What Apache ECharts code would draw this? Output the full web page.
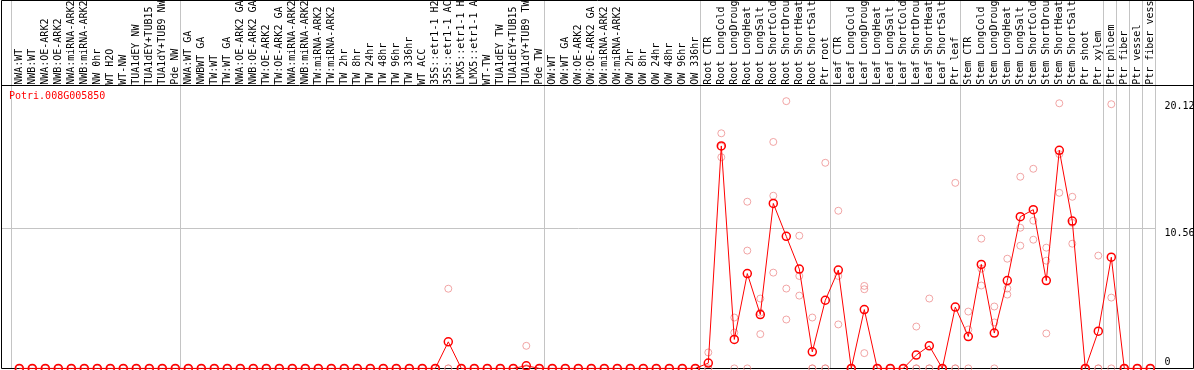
<!DOCTYPE html>
<html>
<head>
<meta charset="utf-8">
<script src="https://cdn.jsdelivr.net/npm/echarts@6/dist/echarts.min.js"></script>
<style>
  html, body { margin: 0; padding: 0; background: #fff; }
  #chart { width: 1194px; height: 370px; }
</style>
</head>
<body>
<div id="chart"></div>
<script>
// expression profile of one gene over 88 samples
const geneId = 'Potri.008G005850';

const samples = [
  'NWA:WT', 'NWB:WT', 'NWA:OE-ARK2', 'NWB:OE-ARK2', 'NWA:miRNA-ARK2', 'NWB:miRNA-ARK2',
  'NW 0hr', 'WT H2O', 'WT-NW', 'TUA1dEY NW', 'TUA1dEY+TUB15 NW', 'TUA1dY+TUB9 NW', 'Pde NW',
  'NWA:WT GA', 'NWBWT GA', 'TW:WT', 'TW:WT GA', 'NWA:OE-ARK2 GA', 'NWB:OE-ARK2 GA',
  'TW:OE-ARK2', 'TW:OE-ARK2 GA', 'NWA:miRNA-ARK2 GA', 'NWB:miRNA-ARK2 GA',
  'TW:miRNA-ARK2', 'TW:miRNA-ARK2 GA', 'TW 2hr', 'TW 8hr', 'TW 24hr', 'TW 48hr',
  'TW 96hr', 'TW 336hr', 'WT ACC', '35S::etr1-1 H2O', '35S::etr1-1 ACC',
  'LMX5::etr1-1 H2O', 'LMX5::etr1-1 ACC', 'WT-TW', 'TUA1dEY TW', 'TUA1dEY+TUB15 TW',
  'TUA1dY+TUB9 TW', 'Pde TW',
  'OW:WT', 'OW:WT GA', 'OW:OE-ARK2', 'OW:OE-ARK2 GA', 'OW:miRNA-ARK2', 'OW:miRNA-ARK2 GA',
  'OW 2hr', 'OW 8hr', 'OW 24hr', 'OW 48hr', 'OW 96hr', 'OW 336hr',
  'Root CTR', 'Root LongCold', 'Root LongDrought', 'Root LongHeat', 'Root LongSalt',
  'Root ShortCold', 'Root ShortDrought', 'Root ShortHeat', 'Root ShortSalt', 'Ptr root',
  'Leaf CTR', 'Leaf LongCold', 'Leaf LongDrought', 'Leaf LongHeat', 'Leaf LongSalt',
  'Leaf ShortCold', 'Leaf ShortDrought', 'Leaf ShortHeat', 'Leaf ShortSalt', 'Ptr leaf',
  'Stem CTR', 'Stem LongCold', 'Stem LongDrought', 'Stem LongHeat', 'Stem LongSalt',
  'Stem ShortCold', 'Stem ShortDrought', 'Stem ShortHeat', 'Stem ShortSalt',
  'Ptr shoot', 'Ptr xylem',
  'Ptr phloem', 'Ptr fiber', 'Ptr vessel', 'Ptr fiber vessel'
];

// mean per sample (red line)
const meanValues = [
  0, 0, 0, 0, 0, 0, 0, 0, 0, 0, 0, 0, 0,
  0, 0, 0, 0, 0, 0, 0, 0, 0, 0, 0, 0, 0, 0, 0, 0, 0, 0, 0, 0, 2.0, 0, 0, 0, 0, 0, 0.2, 0,
  0, 0, 0, 0, 0, 0, 0, 0, 0, 0, 0, 0,
  0.4, 16.75, 2.18, 7.14, 4.05, 12.42, 9.94, 7.48, 1.25, 5.13,
  7.4, 0, 4.43, 0, 0, 0, 1.0, 1.7, 0, 4.62,
  2.4, 7.83, 2.66, 6.61, 11.42, 11.95, 6.61, 16.42, 11.09, 0, 2.8,
  8.37, 0, 0, 0
];

// replicates (pink circles)
const repA = [
  0, 0, 0, 0, 0, 0, 0, 0, 0, 0, 0, 0, 0,
  0, 0, 0, 0, 0, 0, 0, 0, 0, 0, 0, 0, 0, 0, 0, 0, 0, 0, 0, 0, 6.0, 0, 0, 0, 0, 0, 1.7, 0,
  0, 0, 0, 0, 0, 0, 0, 0, 0, 0, 0, 0,
  1.2, 17.7, 3.83, 12.55, 5.26, 17.05, 20.12, 9.99, 3.83, 15.48,
  11.87, 0, 6.21, 0, 0, 0, 3.15, 5.26, 0, 13.97,
  4.28, 9.77, 4.66, 8.26, 14.43, 15.03, 9.09, 19.96, 12.92, 0, 8.49,
  19.89, 0, 0, 0
];
const repB = [
  0, 0, 0, 0, 0, 0, 0, 0, 0, 0, 0, 0, 0,
  0, 0, 0, 0, 0, 0, 0, 0, 0, 0, 0, 0, 0, 0, 0, 0, 0, 0, 0, 0, 0, 0, 0, 0, 0, 0, 0, 0,
  0, 0, 0, 0, 0, 0, 0, 0, 0, 0, 0, 0,
  0, 15.9, 2.7, 8.87, 4.2, 13.0, 6.01, 6.96, 0, 0,
  6.96, 0, 5.96, 0, 0, 0, 0, 0, 0, 0,
  2.93, 7.51, 3.46, 6.01, 10.59, 11.12, 8.11, 13.22, 9.39, 0, 0,
  5.33, 0, 0, 0
];
const repC = [
  0, 0, 0, 0, 0, 0, 0, 0, 0, 0, 0, 0, 0,
  0, 0, 0, 0, 0, 0, 0, 0, 0, 0, 0, 0, 0, 0, 0, 0, 0, 0, 0, 0, 0, 0, 0, 0, 0, 0, 0, 0,
  0, 0, 0, 0, 0, 0, 0, 0, 0, 0, 0, 0,
  0, 16.7, 0, 0, 2.58, 7.21, 3.68, 5.48, 0, 0,
  3.31, 0, 1.15, 0, 0, 0, 0, 0, 0, 0,
  0, 6.24, 0, 5.56, 9.24, 9.69, 2.63, 16.13, 10.96, 0, 0,
  0, 0, 0, 0
];

// first sample index of each block (88 = end)
const groupStarts = [0, 13, 41, 53, 63, 73, 84, 85, 86, 87, 88];

const yMax = 21.126;
const yTickValues = [0, 10.563, 20.12];
const yTickLabels = ['0', '10.56', '20.12'];

const FONT = '"DejaVu Sans Mono", monospace';

const repPoints = [];
[repA, repB, repC].forEach(function (rep) {
  rep.forEach(function (v, i) { repPoints.push([i, v]); });
});

const chart = echarts.init(document.getElementById('chart'));
chart.setOption({
  animation: false,
  title: {
    text: geneId,
    left: 9,
    top: 91,
    padding: 0,
    textStyle: { color: '#ff0000', fontSize: 10, fontWeight: 'normal', fontFamily: FONT }
  },
  grid: { left: 12.8, right: 37.2, top: 87.8, bottom: 1.6, containLabel: false, outerBoundsMode: 'none' },
  xAxis: {
    type: 'category',
    position: 'top',
    data: samples,
    boundaryGap: true,
    axisLine: { show: false },
    axisTick: { show: false },
    splitLine: { show: false },
    axisLabel: { interval: 0, rotate: 90, margin: 3, fontSize: 10, fontFamily: FONT, color: '#000' }
  },
  yAxis: {
    type: 'value',
    min: 0,
    max: yMax,
    axisLine: { show: false },
    axisTick: { show: false },
    axisLabel: { show: false },
    splitLine: { show: false }
  },
  series: [
    {
      type: 'scatter',
      data: repPoints,
      symbol: 'circle',
      symbolSize: 7,
      itemStyle: { color: 'rgba(0,0,0,0)', borderColor: '#ee8e8e', borderWidth: 1 },
      silent: true,
      z: 2
    },
    {
      type: 'line',
      data: meanValues,
      symbol: 'circle',
      symbolSize: 8,
      showAllSymbol: true,
      clip: false,
      lineStyle: { color: '#ff0000', width: 1 },
      itemStyle: { color: 'rgba(0,0,0,0)', borderColor: '#ff0000', borderWidth: 1.5 },
      silent: true,
      z: 3
    }
  ]
});

// frame, block separators, mid line and right-hand labels
const x0 = chart.convertToPixel({ xAxisIndex: 0 }, 0);
const band = chart.convertToPixel({ xAxisIndex: 0 }, 1) - x0;
const sepX = function (s) { return Math.floor(x0 + band * (s - 8 / 13)) + 0.5; };
const rightX = sepX(88);
const py = function (v) { return chart.convertToPixel({ yAxisIndex: 0 }, v); };

const elements = [];
groupStarts.forEach(function (s) {
  const x = sepX(s);
  elements.push({
    type: 'line', silent: true, z: -1,
    shape: { x1: x, y1: 0, x2: x, y2: 368.5 },
    style: { stroke: '#c4c4c4', lineWidth: 1 }
  });
});
const midY = Math.floor(py(yTickValues[1])) + 0.5;
elements.push({
  type: 'line', silent: true, z: -1,
  shape: { x1: 1.5, y1: midY, x2: rightX, y2: midY },
  style: { stroke: '#c4c4c4', lineWidth: 1 }
});
elements.push({
  type: 'rect', silent: true,
  shape: { x: 1.5, y: 0.5, width: 1192, height: 368 },
  style: { fill: 'none', stroke: '#000', lineWidth: 1 }
});
elements.push({
  type: 'line', silent: true,
  shape: { x1: 1.5, y1: 85.5, x2: 1193.5, y2: 85.5 },
  style: { stroke: '#000', lineWidth: 1 }
});
yTickValues.forEach(function (v, i) {
  elements.push({
    type: 'text', silent: true,
    style: {
      text: yTickLabels[i],
      x: rightX + 9,
      y: v === 0 ? py(v) - 6 : py(v) + 5,
      fill: '#000',
      font: '10px ' + FONT,
      align: 'left',
      verticalAlign: 'middle'
    }
  });
});
chart.setOption({ graphic: elements });

window.addEventListener('resize', function () { chart.resize(); });
</script>
</body>
</html>
